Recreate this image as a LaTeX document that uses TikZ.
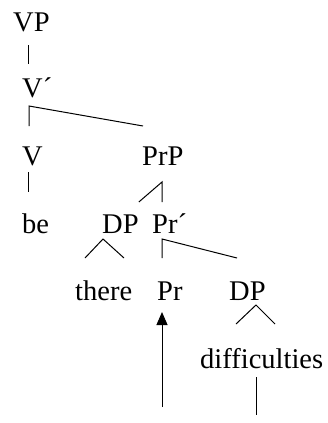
\documentclass[tikz,border=0pt]{standalone}
\usepackage{fontspec}
\setmainfont{Liberation Serif}
\usetikzlibrary{arrows.meta}
\begin{document}
\begin{tikzpicture}[x=1pt, y=-1pt, >={Triangle[length=13pt,width=11pt]}, font=\fontsize{28.5}{30}\selectfont]
    \tikzset{lbl/.style={inner sep=0pt, anchor=base west}, branch/.style={line width=1pt}}
    \useasboundingbox (0,0) rectangle (328,423);
    \node[lbl] (vp) at (13,31) {VP};
    \node[lbl] (vbar) at (22,97) {V´};
    \node[lbl] (v) at (22,165) {V};
    \node[lbl] (prp) at (142,165) {PrP};
    \node[lbl] (be) at (22,233) {be};
    \node[lbl] (dpa) at (102,233) {DP};
    \node[lbl] (prbar) at (152,233) {Pr´};
    \node[lbl] (there) at (75,300) {there};
    \node[lbl] (pr) at (157,300) {Pr};
    \node[lbl] (dpb) at (229,300) {DP};
    \node[lbl] (diff) at (200,368) {difficulties};
    \coordinate (trace) at (256,415);
    \coordinate (move) at (162,407);
    \draw[branch] ([shift={(15,14)}]vp.base west) -- ([shift={(6,-33)}]vbar.base west);
    \draw[branch] ([shift={(7,-39)}]v.base west) -- ([shift={(7,9)}]vbar.base west) -- ([shift={(1,-39)}]prp.base west);
    \draw[branch] ([shift={(6,7)}]v.base west) -- ([shift={(6,-41)}]be.base west);
    \draw[branch] ([shift={(0,-31)}]dpa.base east) -- ([shift={(20,17)}]prp.base west) -- ([shift={(10,-31)}]prbar.base west);
    \draw[branch] ([shift={(10,-42)}]there.base west) -- ([shift={(1,6)}]dpa.base west) -- ([shift={(49,-42)}]there.base west);
    \draw[branch] ([shift={(5,-42)}]pr.base west) -- ([shift={(10,6)}]prbar.base west) -- ([shift={(8,-42)}]dpb.base west);
    \draw[branch] ([shift={(36,-44)}]diff.base west) -- ([shift={(27,5)}]dpb.base west) -- ([shift={(75,-44)}]diff.base west);
    \draw[branch] ([shift={(56,9)}]diff.base west) -- (trace);
    \draw[branch,->] (move) -- ([shift={(5,12)}]pr.base west);
\end{tikzpicture}
\end{document}
